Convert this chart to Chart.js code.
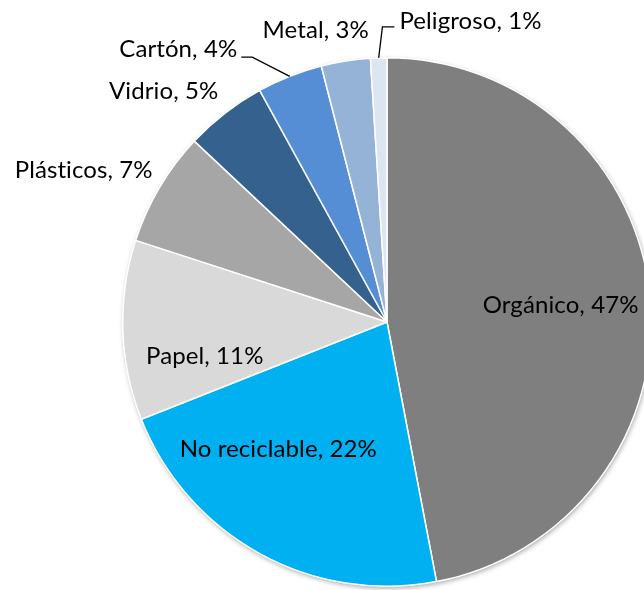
<!DOCTYPE html>
<html>
<head>
<meta charset="utf-8">
<script src="https://cdn.jsdelivr.net/npm/chart.js@4.4.1/dist/chart.umd.min.js"></script>
<style>
  body { margin: 0; background: #fff; }
  #wrap { width: 644px; height: 590px; overflow: hidden; position: relative; }
</style>
</head>
<body>
<div id="wrap"><canvas id="graficoResiduos" width="774" height="590"></canvas></div>
<script>
/* datos */
const categorias = ['Orgánico', 'No reciclable', 'Papel', 'Plásticos', 'Vidrio', 'Cartón', 'Metal', 'Peligroso'];
const porcentajes = [47, 22, 11, 7, 5, 4, 3, 1];
const colores = ['#7F7F7F', '#00B0F0', '#D9D9D9', '#A6A6A6', '#35618F', '#558ED5', '#95B3D7', '#DCE6F2'];

/* colocación de etiquetas: fracción del radio + ajuste en px */
const radioEtiqueta = [0.66, 0.65, 0.69, 1.25, 1.2, 1.2, 1.12, 1.14];
const ajusteX = [0, -26, 0, -19, -29, -92, -25, 93];
const ajusteY = [0, -23, 29, 16, 20, 22, 1, 0];
const lineaGuia = [null, null, null, null, null, 'right', null, 'left'];

const FUENTE = '24px Lato, "Open Sans", sans-serif';

const sombraPie = {
    id: 'sombraPie',
    beforeDatasetsDraw(chart) {
        const arc = chart.getDatasetMeta(0).data[0];
        if (!arc) return;
        const ctx = chart.ctx;
        ctx.save();
        ctx.shadowColor = 'rgba(0,0,0,0.35)';
        ctx.shadowBlur = 5;
        ctx.shadowOffsetX = 1;
        ctx.shadowOffsetY = 2;
        ctx.fillStyle = '#ffffff';
        ctx.beginPath();
        ctx.arc(arc.x, arc.y, arc.outerRadius, 0, Math.PI * 2);
        ctx.fill();
        ctx.restore();
    }
};

const etiquetas = {
    id: 'etiquetas',
    afterDatasetsDraw(chart) {
        const ctx = chart.ctx;
        const meta = chart.getDatasetMeta(0);
        ctx.save();
        ctx.font = FUENTE;
        ctx.letterSpacing = '0.1px'; // evita la ligadura "ti" de Lato
        ctx.fillStyle = '#000';
        ctx.textAlign = 'center';
        ctx.textBaseline = 'middle';
        meta.data.forEach((arc, i) => {
            const mid = (arc.startAngle + arc.endAngle) / 2;
            const r = arc.outerRadius;
            const lx = arc.x + Math.cos(mid) * r * radioEtiqueta[i] + ajusteX[i];
            const ly = arc.y + Math.sin(mid) * r * radioEtiqueta[i] + ajusteY[i];
            const texto = categorias[i] + ', ' + porcentajes[i] + '%';
            ctx.fillText(texto, lx, ly);
            if (lineaGuia[i]) {
                const w = ctx.measureText(texto).width;
                const px = arc.x + Math.cos(mid) * r;
                const py = arc.y + Math.sin(mid) * r;
                let ex, ey, kx;
                if (lineaGuia[i] === 'right') {
                    ex = lx + w / 2 + 4; ey = ly + 8; kx = ex + 11;
                } else {
                    ex = lx - w / 2 - 5; ey = ly + 6; kx = ex - 12;
                }
                ctx.strokeStyle = '#000';
                ctx.lineWidth = 1.3;
                ctx.beginPath();
                ctx.moveTo(px, py);
                ctx.lineTo(kx, ey);
                ctx.lineTo(ex, ey);
                ctx.stroke();
            }
        });
        ctx.restore();
    }
};

const graficoResiduos = document.getElementById('graficoResiduos');

new Chart(graficoResiduos, {
    type: 'pie',
    data: {
        labels: categorias,
        datasets: [{
            data: porcentajes,
            backgroundColor: colores,
            borderColor: '#ffffff',
            borderWidth: 1.5
        }]
    },
    options: {
        responsive: false,
        animation: false,
        devicePixelRatio: 1,
        layout: {
            padding: { top: 57, bottom: 3, left: 0, right: 0 }
        },
        plugins: {
            legend: { display: false },
            tooltip: { enabled: false }
        }
    },
    plugins: [sombraPie, etiquetas]
});
</script>
</body>
</html>
